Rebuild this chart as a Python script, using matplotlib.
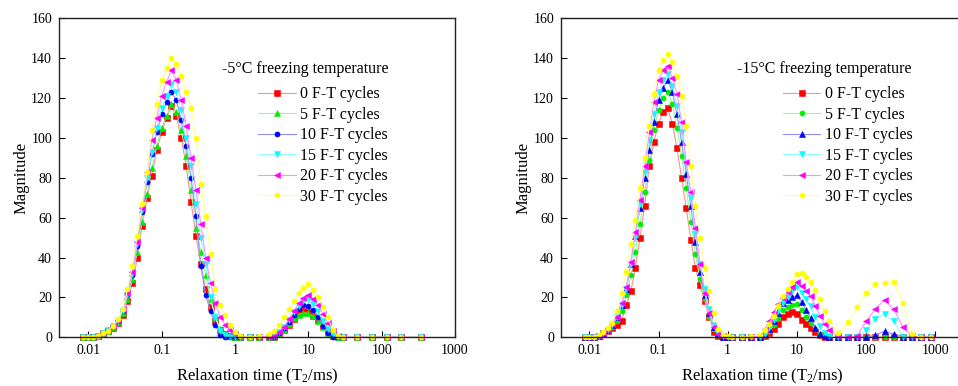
import matplotlib
matplotlib.use("Agg")
import matplotlib.pyplot as plt
from matplotlib.ticker import FixedLocator, FixedFormatter, NullLocator, MultipleLocator

plt.rcParams['font.family'] = ['Liberation Serif', 'DejaVu Serif']
plt.rcParams['mathtext.default'] = 'regular'

# relaxation time grid (ms) for each panel
t2_left = [0.008577, 0.01, 0.01166, 0.01359, 0.01585, 0.01848, 0.02154, 0.02512, 0.02929, 0.03415,
           0.03981, 0.04642, 0.05412, 0.0631, 0.07356, 0.08577, 0.1, 0.1166, 0.1359, 0.1585,
           0.1848, 0.2154, 0.2512, 0.2929, 0.3415, 0.3981, 0.4642, 0.5412, 0.631, 0.7356,
           0.8577, 1.0, 1.166,
           1.585, 2.154,
           2.929, 3.415, 3.981, 4.642, 5.412, 6.31, 7.356, 8.577, 10.0, 11.66,
           13.59, 15.85, 18.48, 21.54, 25.12, 29.29,
           46.42, 73.56, 116.6, 184.8, 341.5]

t2_right = [0.008577, 0.01, 0.01166, 0.01359, 0.01585, 0.01848, 0.02154, 0.02512, 0.02929, 0.03415,
            0.03981, 0.04642, 0.05412, 0.0631, 0.07356, 0.08577, 0.1, 0.1166, 0.1359, 0.1585,
            0.1848, 0.2154, 0.2512, 0.2929, 0.3415, 0.3981, 0.4642, 0.5412, 0.631, 0.7356,
            0.8577, 1.0, 1.166,
            1.585, 2.154,
            2.929, 3.415, 3.981, 4.642, 5.412, 6.31, 7.356, 8.577, 10.0, 11.66,
            13.59, 15.85, 18.48, 21.54, 25.12, 29.29,
            39.81, 54.12, 73.56, 100.0, 135.9, 184.8, 251.2, 341.5, 464.2, 631.0, 857.7]

# -5 C freezing temperature
m5_0 = [0, 0, 0.2, 0.8, 2, 3.3, 4.7, 7, 11, 18, 27, 40, 56, 70, 81, 94, 103, 110, 116, 111,
        100, 86, 68, 51, 37, 24, 15, 8, 3.5, 1.7, 0.7, 0, 0,
        0, 0,
        0, 0.3, 1.5, 3.7, 6.3, 9, 11.7, 13.3, 12.5, 10.7, 8.7, 5.5, 2.8, 0.8, 0, 0,
        0, 0, 0, 0, 0]
m5_5 = [0, 0, 0.2, 0.8, 2, 3.3, 5, 7.5, 12, 19, 29, 43, 58, 72, 85, 96, 105, 111, 117, 113,
        104, 91, 74, 55, 43, 31, 19, 10, 4, 1.7, 0.7, 0, 0,
        0, 0,
        0, 0.3, 1.5, 3.7, 6.7, 9.5, 11.3, 12.3, 12, 10.5, 8.2, 5, 2.3, 0.8, 0, 0,
        0, 0, 0, 0, 0]
m5_10 = [0, 0, 0.2, 0.8, 2, 3.5, 5.5, 8, 13, 21, 31, 46, 63, 78, 92, 103, 112, 118, 123, 119,
         109, 96, 80, 61, 36, 21, 13, 6, 1, 0, 0, 0, 0,
         0, 0,
         0, 0.3, 2, 4.7, 7.7, 11, 14.2, 16.2, 15.5, 13.5, 10.2, 5.5, 2.3, 0.3, 0, 0,
         0, 0, 0, 0, 0]
m5_15 = [0, 0, 0.2, 0.8, 2, 3.5, 5.5, 8, 13, 21, 32, 47, 64, 80, 93, 105, 115, 121, 127, 123,
         114, 100, 86, 67, 50, 37, 20, 10, 3, 1, 0.3, 0, 0,
         0, 0,
         0, 0.7, 2.5, 5.3, 8.7, 12.5, 15.7, 18, 19, 16.7, 13, 8, 4.2, 1.5, 0, 0,
         0, 0, 0, 0, 0]
m5_20 = [0, 0, 0.2, 0.8, 2, 3.5, 5.5, 8.5, 14, 22, 33, 48, 65, 83, 99, 110, 121, 128, 134, 129,
         119, 106, 90, 74, 57, 40, 27, 17, 10, 6.3, 3.7, 1.5, 0.4,
         0, 0.3,
         0, 0.7, 2.5, 5.3, 9, 13, 17, 19.5, 21, 19.3, 16, 11.5, 7, 3, 0.5, 0,
         0, 0, 0, 0, 0]
m5_30 = [0, 0, 0.4, 0.8, 2, 3.3, 5.5, 9, 14, 24, 36, 51, 67, 83, 104, 117, 129, 135, 140, 137,
         131, 123, 115, 100, 77, 61, 42, 24, 16, 11, 6, 2.5, 0.8,
         0.3, 0.6,
         1.5, 3, 6, 10, 14, 18, 22.2, 24.8, 26.5, 23.7, 20, 15, 10, 3.5, 0.5, 0,
         0, 0, 0, 0, 0]

# -15 C freezing temperature
m15_0 = [0, 0, 0.1, 0.7, 2, 3.3, 4.7, 6, 8, 16, 23, 35, 50, 66, 86, 98, 107, 113, 115, 107,
         95, 80, 65, 49, 35, 26, 18, 10, 2.5, 0.7, 0, 0, 0,
         0, 0,
         0, 0.9, 2, 4, 6.7, 10, 11.8, 12.5, 11.5, 8.8, 6.5, 4.5, 2.5, 1, 0, 0,
         0, 0, 0, 0, 0, 0, 0, 0, 0, 0, 0]
m15_5 = [0, 0, 0.2, 0.8, 2, 3.3, 5, 8, 13, 21, 31, 43, 57, 73, 89, 104, 114, 120, 123, 117,
         105, 91, 75, 58, 42, 29, 19, 10, 4, 1.2, 0.2, 0, 0,
         0, 0,
         0.2, 1.3, 3, 6, 9.5, 13.5, 15.2, 16.2, 16.5, 13.5, 10.3, 7, 4, 1.8, 0.5, 0,
         0, 0, 0, 0, 0, 0, 0, 0, 0, 0, 0]
m15_10 = [0, 0, 0.2, 0.8, 2, 3.7, 6.3, 10, 16, 24, 37, 51, 65, 80, 94, 108, 119, 125, 129, 123,
          112, 98, 82, 66, 48, 33, 21, 12, 5, 1.7, 0.3, 0, 0,
          0, 0,
          0.2, 1.7, 4, 8, 12.3, 17, 18.7, 20, 21, 17.7, 13.8, 9.5, 4.8, 1.8, 0.5, 0,
          0, 0, 0, 0, 1.2, 3, 1.5, 0.3, 0, 0, 0]
m15_15 = [0, 0, 0.2, 0.8, 2, 3.8, 6.3, 10, 16, 24, 37, 50, 67, 83, 99, 112, 123, 129, 132, 126,
          116, 103, 87, 70, 52, 37, 24, 14, 6, 2, 0.7, 0, 0,
          0, 0,
          0.2, 1.8, 4.5, 8.8, 13, 17, 20.3, 23, 25, 22.3, 19.2, 15.5, 10.2, 5.7, 2, 0.7,
          0, 0, 0, 3.5, 9.3, 11.8, 8, 0.3, 0, 0, 0]
m15_20 = [0, 0, 0.2, 0.8, 2, 3.8, 6.7, 10, 17, 25, 38, 53, 69, 86, 103, 118, 129, 134, 136, 130,
          122, 108, 88, 73, 55, 37, 22, 12, 5, 1.7, 0.7, 0, 0,
          0, 0,
          1, 4, 8, 12.7, 16.5, 19.5, 22.5, 25.3, 27.8, 25.6, 23.2, 20.5, 15.5, 10.8, 6.5, 3.5,
          0.5, 0, 0.5, 8, 14.3, 18.7, 14, 5, 0.5, 0, 0]
m15_30 = [0, 0, 0.4, 1.2, 2.5, 4.5, 7.3, 13, 22, 33, 47, 59, 75, 90, 106, 122, 134, 139, 142, 138,
          131, 121, 106, 86, 66, 50, 35, 23, 12, 4.3, 1.3, 0.5, 0,
          0, 0.5,
          1.2, 3.5, 6.5, 10.8, 15.5, 20.5, 24.2, 27.8, 31.5, 32.3, 30.2, 27.5, 23.8, 19, 13, 8.2,
          2.3, 7.7, 15, 22, 26.7, 27.2, 27.8, 17, 1.5, 0, 0]

cycle_labels = ['0 F-T cycles', '5 F-T cycles', '10 F-T cycles',
                '15 F-T cycles', '20 F-T cycles', '30 F-T cycles']
x_ticks = [0.01, 0.1, 1, 10, 100, 1000]
x_tick_labels = ['0.01', '0.1', '1', '10', '100', '1000']

colors = ['#ff0000', '#00ee00', '#0000ff', '#00ffff', '#ff00ff', '#ffff00']
line_colors = ['#ff9090', '#90ff90', '#9090ff', '#90ffff', '#ff90ff', '#ffff90']
markers_left = ['s', '^', 'o', 'v', '<', 'o']
markers_right = ['s', 'o', '^', 'v', '<', 'o']


def draw_panel(ax, t2, series, markers, title, xlim, title_x, leg_x):
    for y, lab, c, lc, m in zip(series, cycle_labels, colors, line_colors, markers):
        ax.plot(t2, y, color=lc, lw=0.8, marker=m, markersize=3.7,
                markerfacecolor=c, markeredgecolor=c, markeredgewidth=0.4,
                label=lab, clip_on=False)
    ax.set_xscale('log')
    ax.set_xlim(*xlim)
    ax.set_ylim(0, 160)
    ax.xaxis.set_major_locator(FixedLocator(x_ticks))
    ax.xaxis.set_major_formatter(FixedFormatter(x_tick_labels))
    ax.xaxis.set_minor_locator(NullLocator())
    ax.yaxis.set_major_locator(MultipleLocator(20))
    ax.tick_params(direction='in', length=4, width=0.8, labelsize=10, pad=5,
                   top=False, right=False)
    for sp in ax.spines.values():
        sp.set_linewidth(1.0)
        sp.set_color('#222222')
    ax.set_xlabel('Relaxation time (T$_2$/ms)', fontsize=12, labelpad=7)
    ax.set_ylabel('Magnitude', fontsize=12, labelpad=1.5)
    ax.text(title_x, 0.841, title, transform=ax.transAxes, fontsize=11.5,
            va='center', ha='left')
    ax.legend(loc='upper left', bbox_to_anchor=(leg_x, 0.787), frameon=False,
              fontsize=11.5, handlelength=2.35, handletextpad=0.3,
              labelspacing=0.28, borderpad=0, borderaxespad=0, numpoints=1)


fig = plt.figure(figsize=(9.58, 3.86), dpi=100)
bottom = (386 - 337.3) / 386
height = 319 / 386
ax1 = fig.add_axes([59 / 958, bottom, 396 / 958, height])
ax2 = fig.add_axes([561 / 958, bottom, 402.6 / 958, height])

draw_panel(ax1, t2_left, [m5_0, m5_5, m5_10, m5_15, m5_20, m5_30], markers_left,
           '-5\u00b0C freezing temperature', (10 ** -2.4, 1000), 0.4116, 0.5025)
draw_panel(ax2, t2_right, [m15_0, m15_5, m15_10, m15_15, m15_20, m15_30], markers_right,
           '-15\u00b0C freezing temperature', (10 ** -2.409, 10 ** 3.409), 0.437, 0.551)

fig.savefig('out.png', dpi=100)
